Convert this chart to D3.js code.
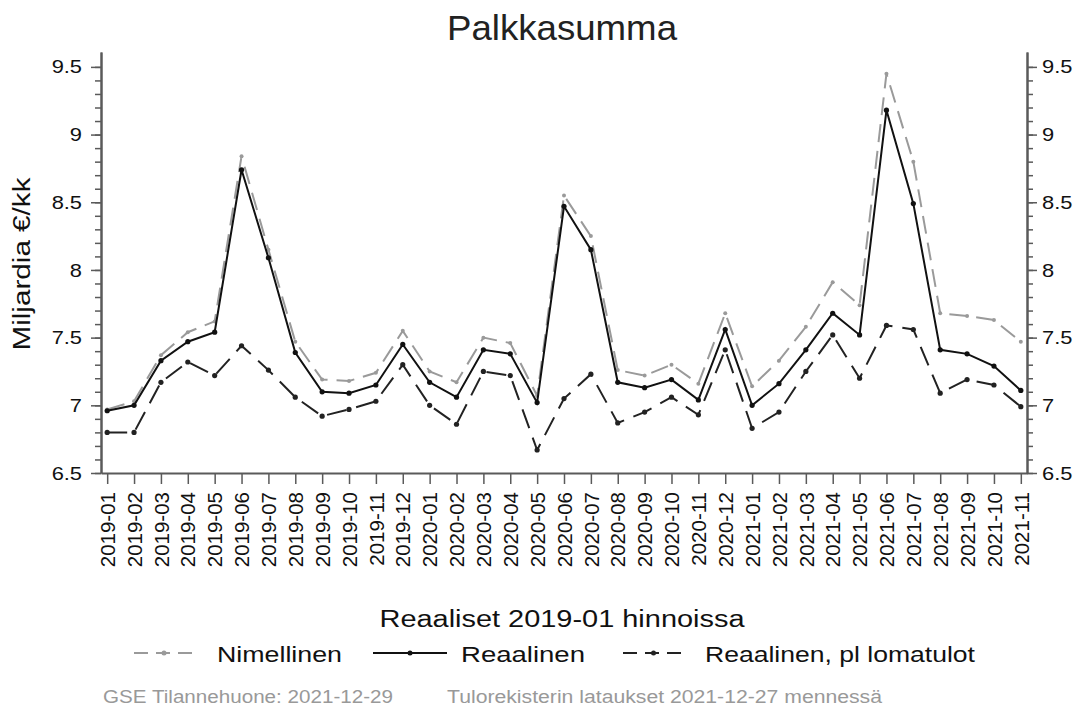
<!DOCTYPE html>
<html>
<head>
<meta charset="utf-8">
<script src="https://cdn.jsdelivr.net/npm/d3@7"></script>
<style>
  body { margin: 0; background: #fff; }
  svg { font-family: "Liberation Sans", Arial, sans-serif; }
</style>
</head>
<body>
<div class="chart"></div>
<script>
// data
var months = ['2019-01','2019-02','2019-03','2019-04','2019-05','2019-06','2019-07','2019-08','2019-09','2019-10','2019-11','2019-12',
  '2020-01','2020-02','2020-03','2020-04','2020-05','2020-06','2020-07','2020-08','2020-09','2020-10','2020-11','2020-12',
  '2021-01','2021-02','2021-03','2021-04','2021-05','2021-06','2021-07','2021-08','2021-09','2021-10','2021-11'];

var nimellinen = [6.97, 7.03, 7.37, 7.54, 7.62, 8.84, 8.15, 7.47, 7.19, 7.18, 7.24, 7.55,
  7.25, 7.17, 7.50, 7.46, 7.07, 8.55, 8.25, 7.26, 7.22, 7.30, 7.16, 7.68,
  7.14, 7.33, 7.58, 7.91, 7.74, 9.45, 8.80, 7.68, 7.66, 7.63, 7.47];

var reaalinen = [6.96, 7.00, 7.33, 7.47, 7.54, 8.74, 8.09, 7.39, 7.10, 7.09, 7.15, 7.45,
  7.17, 7.06, 7.41, 7.38, 7.02, 8.47, 8.15, 7.17, 7.13, 7.19, 7.04, 7.56,
  7.00, 7.16, 7.41, 7.68, 7.52, 9.18, 8.49, 7.41, 7.38, 7.29, 7.11];

var plLomatulot = [6.80, 6.80, 7.17, 7.32, 7.22, 7.44, 7.26, 7.06, 6.92, 6.97, 7.03, 7.30,
  7.00, 6.86, 7.25, 7.22, 6.67, 7.05, 7.23, 6.87, 6.95, 7.06, 6.93, 7.41,
  6.83, 6.95, 7.25, 7.52, 7.20, 7.59, 7.56, 7.09, 7.19, 7.15, 6.99];

var yTicks = [6.5, 7, 7.5, 8, 8.5, 9, 9.5];

// set up chart size
var svgWidth = 1076;
var svgHeight = 709;

var margin = { top: 52, bottom: 236, left: 101, right: 49 };
var width = svgWidth - margin.left - margin.right;
var height = svgHeight - margin.top - margin.bottom;

var svg = d3.select('.chart')
  .append('svg')
  .attr('width', svgWidth)
  .attr('height', svgHeight);

var chart = svg.append('g')
  .attr('transform', `translate(${margin.left}, ${margin.top})`);

var xScale = d3.scalePoint().domain(months).range([0, width]).padding(0.23);
// axis line runs a little above the 9.5 tick, as in the original
var yScale = d3.scaleLinear().domain([6.5, 9.61]).range([height, 0]);

var axisColor = '#5a5a5a';
var gray = '#9a9a9a';

// the source text is wider than Arial: stretch a text to a measured width
function stretch(sel, w) {
  sel.attr('textLength', w).attr('lengthAdjust', 'spacingAndGlyphs');
}

// minor ticks every 0.1
var minor = d3.range(65, 96).map(function(d) { return d / 10; });

function styleAxis(g) {
  g.select('.domain').attr('stroke', axisColor).attr('stroke-width', 2);
  g.selectAll('.tick line').attr('stroke', axisColor).attr('stroke-width', 1.5);
  g.selectAll('.tick text').attr('fill', '#111').style('font-size', '19px');
}

// left axis
chart.append('g')
  .call(d3.axisLeft(yScale).tickValues(minor).tickSize(6).tickSizeOuter(0).tickFormat(''))
  .call(styleAxis);
chart.append('g')
  .call(d3.axisLeft(yScale).tickValues(yTicks).tickSize(10).tickSizeOuter(0).tickPadding(9).tickFormat(d3.format('')))
  .call(styleAxis);

// right axis
chart.append('g')
  .attr('transform', `translate(${width}, 0)`)
  .call(d3.axisRight(yScale).tickValues(minor).tickSize(6).tickSizeOuter(0).tickFormat(''))
  .call(styleAxis);
chart.append('g')
  .attr('transform', `translate(${width}, 0)`)
  .call(d3.axisRight(yScale).tickValues(yTicks).tickSize(10).tickSizeOuter(0).tickPadding(5).tickFormat(d3.format('')))
  .call(styleAxis);

chart.selectAll('.tick text').each(function() {
  var t = d3.select(this);
  if (t.text()) stretch(t, this.getComputedTextLength() * 1.15);
});

// bottom axis with rotated labels
var xAxis = chart.append('g')
  .attr('transform', `translate(0, ${height})`)
  .call(d3.axisBottom(xScale).tickSize(11).tickSizeOuter(0))
  .call(styleAxis);
xAxis.selectAll('.tick text')
  .style('font-size', '20.5px')
  .attr('text-anchor', 'end')
  .attr('transform', 'rotate(-90)')
  .attr('x', -19)
  .attr('y', 0)
  .attr('dy', '0.35em');

var series = [
  { name: 'Nimellinen', values: nimellinen, color: gray, dash: '18,9', r: 2 },
  { name: 'Reaalinen', values: reaalinen, color: '#111', dash: null, r: 2.6 },
  { name: 'Reaalinen, pl lomatulot', values: plLomatulot, color: '#222', dash: '20,10', r: 2.6 }
];

var line = d3.line()
  .x(function(d, i) { return xScale(months[i]); })
  .y(function(d) { return yScale(d); });

series.forEach(function(s) {
  chart.append('path')
    .datum(s.values)
    .attr('fill', 'none')
    .attr('stroke', s.color)
    .attr('stroke-width', 2)
    .attr('stroke-dasharray', s.dash)
    .attr('d', line);

  chart.selectAll(null)
    .data(s.values)
    .enter()
    .append('circle')
    .attr('cx', function(d, i) { return xScale(months[i]); })
    .attr('cy', function(d) { return yScale(d); })
    .attr('r', s.r)
    .attr('fill', s.color);
});

// title
svg.append('text')
  .attr('x', 562)
  .attr('y', 40)
  .attr('text-anchor', 'middle')
  .style('font-size', '35px')
  .attr('fill', '#222')
  .text('Palkkasumma')
  .call(stretch, 230);

// y-axis label
svg.append('text')
  .attr('transform', 'translate(30, 264) rotate(-90)')
  .attr('text-anchor', 'middle')
  .style('font-size', '23px')
  .attr('fill', '#111')
  .text('Miljardia €/kk')
  .call(stretch, 173);

// x-axis title
svg.append('text')
  .attr('x', 562)
  .attr('y', 627)
  .attr('text-anchor', 'middle')
  .style('font-size', '23px')
  .attr('fill', '#111')
  .text('Reaaliset 2019-01 hinnoissa')
  .call(stretch, 365);

// legend
var legend = [
  { s: series[0], x0: 134, x1: 194, tx: 217, w: 125 },
  { s: series[1], x0: 373, x1: 447, tx: 461, w: 124 },
  { s: series[2], x0: 623, x1: 684, tx: 705, w: 270 }
];
var ly = 653;
legend.forEach(function(l) {
  svg.append('line')
    .attr('x1', l.x0).attr('x2', l.x1)
    .attr('y1', ly).attr('y2', ly)
    .attr('stroke', l.s.color)
    .attr('stroke-width', 2)
    .attr('stroke-dasharray', l.s.dash ? '14,8' : null);
  svg.append('circle')
    .attr('cx', (l.x0 + l.x1) / 2)
    .attr('cy', ly)
    .attr('r', 2.5)
    .attr('fill', l.s.color);
  svg.append('text')
    .attr('x', l.tx)
    .attr('y', ly + 9)
    .style('font-size', '22px')
    .attr('fill', '#111')
    .text(l.s.name)
    .call(stretch, l.w);
});

// footer
svg.append('text')
  .attr('x', 103)
  .attr('y', 703)
  .style('font-size', '17.5px')
  .attr('fill', '#999')
  .text('GSE Tilannehuone: 2021-12-29')
  .call(stretch, 290);
svg.append('text')
  .attr('x', 447)
  .attr('y', 703)
  .style('font-size', '17.5px')
  .attr('fill', '#999')
  .text('Tulorekisterin lataukset 2021-12-27 mennessä')
  .call(stretch, 435);
</script>
</body>
</html>
